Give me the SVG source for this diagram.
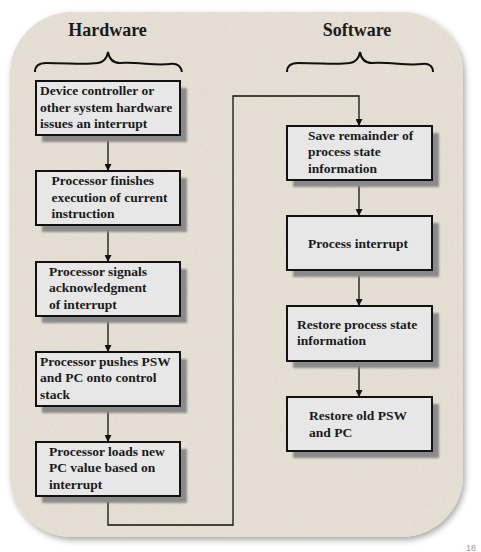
<svg xmlns="http://www.w3.org/2000/svg" width="481" height="552" viewBox="0 0 481 552">
<defs>
<filter id="panelShadow" x="-10%" y="-10%" width="120%" height="120%">
<feGaussianBlur in="SourceAlpha" stdDeviation="3"/>
<feOffset dx="2" dy="3" result="b"/>
<feFlood flood-color="#000" flood-opacity="0.35"/>
<feComposite in2="b" operator="in"/>
<feMerge><feMergeNode/><feMergeNode in="SourceGraphic"/></feMerge>
</filter>
<filter id="speckle" x="0" y="0" width="100%" height="100%">
<feTurbulence type="fractalNoise" baseFrequency="0.9" numOctaves="2" seed="3" result="n"/>
<feColorMatrix in="n" type="matrix" values="0 0 0 0 0.6  0 0 0 0 0.55  0 0 0 0 0.47  0 0 0 -2.2 1.2" result="s"/>
<feComposite in="s" in2="SourceGraphic" operator="in"/>
</filter>
<filter id="boxShadow" x="-10%" y="-10%" width="130%" height="140%">
<feGaussianBlur stdDeviation="0.8"/>
</filter>
<marker id="arrow" viewBox="0 0 8 8" refX="8" refY="4" markerWidth="7" markerHeight="7" markerUnits="userSpaceOnUse" orient="auto">
<path d="M0,0 L8,4 L0,8 z" fill="#111"/>
</marker>
<style>
.box{fill:#e7e7e7;stroke:#111;stroke-width:2}
.shd{fill:#8a8a8a;filter:url(#boxShadow)}
.t{font-family:"Liberation Serif","Times New Roman",serif;font-weight:bold;font-size:13.5px;fill:#1a1a1a}
.h{font-family:"Liberation Serif","Times New Roman",serif;font-weight:bold;font-size:18px;fill:#1a1a1a}
.ln{fill:none;stroke:#111;stroke-width:1.3}
.br{fill:none;stroke:#111;stroke-width:2}
</style>
</defs>
<rect width="481" height="552" fill="#ffffff"/>
<g id="panel">
<rect x="10" y="12" width="453" height="525" rx="62" ry="62" fill="#e6dfd3" filter="url(#panelShadow)"/>
<rect x="10" y="12" width="453" height="525" rx="62" ry="62" fill="#e6dfd3" filter="url(#speckle)" opacity="0.35"/>
</g>
<g id="hardware-header">
<text class="h" x="107.5" y="36" text-anchor="middle">Hardware</text>
<path class="br" d="M35,72 C35,66 38,63 46,63 C70,63 85,65 98,63 C104,62 107,58 108,52 C109,58 112,63 120,63 C140,62 155,66 170,64 C178,63 181,67 182,72"/>
</g>
<g id="software-header">
<text class="h" x="357" y="36" text-anchor="middle">Software</text>
<path class="br" d="M287,72 C287,66 290,63 298,63 C322,63 337,65 350,63 C356,62 359,58 360,52 C361,58 364,63 372,63 C392,62 407,66 422,64 C430,63 433,67 433,72"/>
</g>
<g id="connectors">
<line class="ln" x1="108" y1="135" x2="108" y2="171" marker-end="url(#arrow)"/>
<line class="ln" x1="108" y1="225" x2="108" y2="262" marker-end="url(#arrow)"/>
<line class="ln" x1="108" y1="316" x2="108" y2="352" marker-end="url(#arrow)"/>
<line class="ln" x1="108" y1="406" x2="108" y2="442" marker-end="url(#arrow)"/>
<path class="ln" d="M108,496 V525 H233 V96 H359 V126" marker-end="url(#arrow)"/>
<line class="ln" x1="359" y1="180" x2="359" y2="216" marker-end="url(#arrow)"/>
<line class="ln" x1="359" y1="270" x2="359" y2="306" marker-end="url(#arrow)"/>
<line class="ln" x1="359" y1="361" x2="359" y2="397" marker-end="url(#arrow)"/>
</g>
<g id="hw1">
<rect class="shd" x="42" y="88" width="145" height="54"/>
<rect class="box" x="36" y="81" width="144" height="54"/>
<text class="t" x="40" y="95">Device controller or</text>
<text class="t" x="40" y="111.5">other system hardware</text>
<text class="t" x="40" y="128">issues an interrupt</text>
</g>
<g id="hw2">
<rect class="shd" x="42" y="178" width="145" height="54"/>
<rect class="box" x="36" y="171" width="144" height="54"/>
<text class="t" x="51.5" y="185">Processor finishes</text>
<text class="t" x="51.5" y="201.5">execution of current</text>
<text class="t" x="51.5" y="218">instruction</text>
</g>
<g id="hw3">
<rect class="shd" x="42" y="269" width="145" height="54"/>
<rect class="box" x="36" y="262" width="144" height="54"/>
<text class="t" x="49" y="275.5">Processor signals</text>
<text class="t" x="49" y="292">acknowledgment</text>
<text class="t" x="49" y="308.5">of interrupt</text>
</g>
<g id="hw4">
<rect class="shd" x="42" y="359" width="145" height="54"/>
<rect class="box" x="36" y="352" width="144" height="54"/>
<text class="t" x="40" y="365.5">Processor pushes PSW</text>
<text class="t" x="40" y="382">and PC onto control</text>
<text class="t" x="40" y="398.5">stack</text>
</g>
<g id="hw5">
<rect class="shd" x="42" y="449" width="145" height="54"/>
<rect class="box" x="36" y="442" width="144" height="54"/>
<text class="t" x="49" y="455.5">Processor loads new</text>
<text class="t" x="49" y="472">PC value based on</text>
<text class="t" x="49" y="488.5">interrupt</text>
</g>
<g id="sw1">
<rect class="shd" x="293" y="133" width="146" height="54"/>
<rect class="box" x="287" y="126" width="145" height="54"/>
<text class="t" x="308" y="139.5">Save remainder of</text>
<text class="t" x="308" y="156">process state</text>
<text class="t" x="308" y="172.5">information</text>
</g>
<g id="sw2">
<rect class="shd" x="293" y="223" width="146" height="54"/>
<rect class="box" x="287" y="216" width="145" height="54"/>
<text class="t" x="358" y="248" text-anchor="middle">Process interrupt</text>
</g>
<g id="sw3">
<rect class="shd" x="293" y="313" width="146" height="55"/>
<rect class="box" x="287" y="306" width="145" height="55"/>
<text class="t" x="297" y="328.5">Restore process state</text>
<text class="t" x="297" y="345">information</text>
</g>
<g id="sw4">
<rect class="shd" x="293" y="404" width="146" height="54"/>
<rect class="box" x="287" y="397" width="145" height="54"/>
<text class="t" x="309" y="420">Restore old PSW</text>
<text class="t" x="309" y="436.5">and PC</text>
</g>
<text x="466" y="551" font-family="Liberation Sans, Arial, sans-serif" font-size="9" fill="#9a9a9a">18</text>
</svg>
